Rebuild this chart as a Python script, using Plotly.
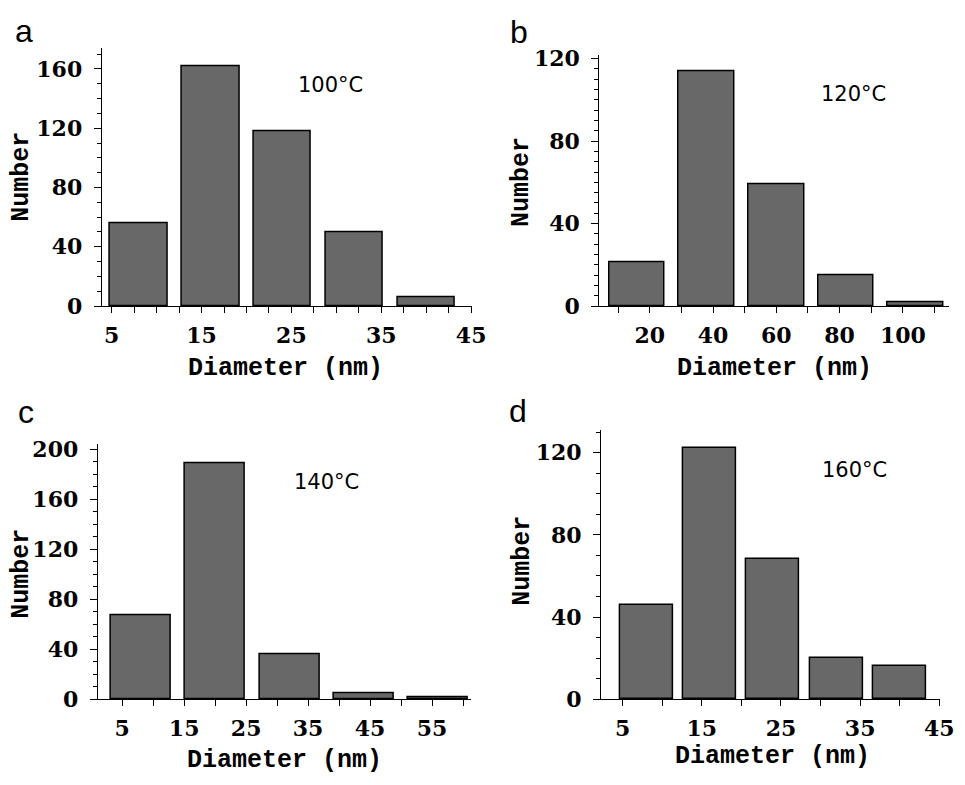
import plotly.graph_objects as go

# Particle size histograms at four synthesis temperatures
temps = ["100°C", "120°C", "140°C", "160°C"]
panel_letters = ["a", "b", "c", "d"]

diam_a = [8, 16, 24, 32, 40]
count_a = [56, 162, 118, 50, 6]

diam_b = [16, 38, 60, 82, 104]
count_b = [21, 114, 59, 15, 2]

diam_c = [8, 20, 32, 44, 56]
count_c = [67, 189, 36, 5, 2]

diam_d = [8, 16, 24, 32, 40]
count_d = [46, 122, 68, 20, 16]

xtick_a = [5, 15, 25, 35, 45]
xtick_b = [20, 40, 60, 80, 100]
xtick_c = [5, 15, 25, 35, 45, 55]
xtick_d = [5, 15, 25, 35, 45]

ytick_a = [0, 40, 80, 120, 160]
ytick_b = [0, 40, 80, 120]
ytick_c = [0, 40, 80, 120, 160, 200]
ytick_d = [0, 40, 80, 120]

W, H = 965, 785
BAR_FILL = "rgb(104,104,104)"
TICK_FONT = dict(family="DejaVu Serif", size=22, color="black", weight="bold")
TITLE_FONT = dict(family="Liberation Mono", size=25, color="black", weight="bold")

panels = [
    dict(x=diam_a, y=count_a, w=6.4, xt=xtick_a, yt=ytick_a, xr=[3.9, 45.1], yr=[0, 174],
         xminor=2.5, yminor=10, px=(103.3, 479), py=(39.3, 305)),
    dict(x=diam_b, y=count_b, w=17.6, xt=xtick_b, yt=ytick_b, xr=[4.1, 114.5], yr=[0, 121.6],
         xminor=10, yminor=5, px=(608.3, 962.7), py=(46.7, 305)),
    dict(x=diam_c, y=count_c, w=9.7, xt=xtick_c, yt=ytick_c, xr=[1.07, 61.3], yr=[0, 204],
         xminor=5, yminor=10, px=(99.3, 478), py=(447.3, 710)),
    dict(x=diam_d, y=count_d, w=6.7, xt=xtick_d, yt=ytick_d, xr=[2.3, 45.1], yr=[0, 131],
         xminor=5, yminor=10, px=(610, 954), py=(432.7, 710)),
]

fig = go.Figure()
layout = {}
for i, p in enumerate(panels):
    n = "" if i == 0 else str(i + 1)
    fig.add_trace(go.Bar(
        x=p["x"], y=p["y"], width=p["w"],
        marker=dict(color=BAR_FILL, line=dict(color="black", width=1.5)),
        xaxis="x" + n, yaxis="y" + n, showlegend=False,
    ))
    common = dict(showline=True, linecolor="black", linewidth=1.3, ticks="outside",
                  tickcolor="black", tickwidth=1.2, showgrid=False, zeroline=False,
                  tickfont=TICK_FONT, mirror=False)
    layout["xaxis" + n] = dict(
        common, domain=[p["px"][0] / W, p["px"][1] / W], range=p["xr"],
        tickmode="array", tickvals=p["xt"], ticklen=6, anchor="y" + n,
        ticklabelstandoff=3,
        minor=dict(dtick=p["xminor"], tick0=0, ticklen=6, tickcolor="black",
                   tickwidth=1.1, ticks="outside"),
    )
    layout["yaxis" + n] = dict(
        common, domain=[1 - p["py"][1] / H, 1 - p["py"][0] / H], range=p["yr"],
        tickmode="array", tickvals=p["yt"], ticklen=7, anchor="x" + n,
        ticklabelstandoff=7,
        minor=dict(dtick=p["yminor"], tick0=0, ticklen=4, tickcolor="black",
                   tickwidth=1.1, ticks="outside"),
    )

annotations = []
# panel letters
for letter, (lx, ly) in zip(panel_letters, [(24, 34), (527, 35), (26, 427), (526, 425)]):
    annotations.append(dict(text=letter, x=lx / W, y=1 - ly / H, xref="paper", yref="paper",
                            xanchor="center", yanchor="bottom", showarrow=False,
                            font=dict(family="Liberation Sans", size=32, color="black"),
                            yshift=-8))
# temperature labels
for t, (tx, ty) in zip(temps, [(335.5, 77), (866, 86.5), (331, 486.5), (867, 473.5)]):
    annotations.append(dict(text=t, x=tx / W, y=1 - ty / H, xref="paper", yref="paper",
                            xanchor="center", yanchor="middle", showarrow=False,
                            font=dict(family="DejaVu Sans", size=21, color="black")))
# axis titles
for (cx, cy) in [(289.5, 369), (785.5, 369), (289, 773), (783.5, 769)]:
    annotations.append(dict(text="Diameter (nm)", x=cx / W, y=1 - cy / H, xref="paper",
                            yref="paper", xanchor="center", yanchor="middle",
                            showarrow=False, font=TITLE_FONT))
for (cx, cy) in [(22, 172), (530, 177), (22, 581), (530, 567)]:
    annotations.append(dict(text="Number", x=cx / W, y=1 - cy / H, xref="paper",
                            yref="paper", xanchor="center", yanchor="middle",
                            showarrow=False, textangle=-90, font=TITLE_FONT))

fig.update_layout(
    **layout,
    annotations=annotations,
    width=W, height=H,
    margin=dict(l=0, r=0, t=0, b=0),
    paper_bgcolor="white", plot_bgcolor="white",
    bargap=0,
)
# page without default body margin so the figure fills the window exactly
fig.write_html("out.html", post_script="document.body.style.margin='0';document.body.style.overflow='hidden';")
